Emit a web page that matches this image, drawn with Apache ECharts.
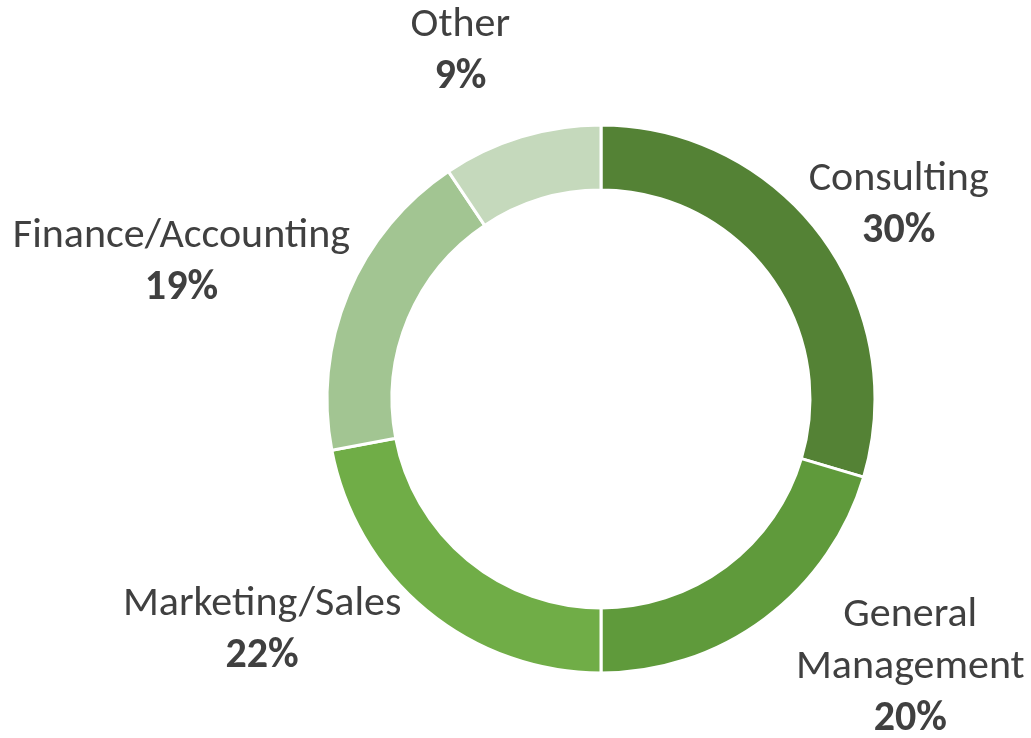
<!DOCTYPE html>
<html>
<head>
<meta charset="utf-8">
<script src="https://cdn.jsdelivr.net/npm/echarts@6/dist/echarts.min.js"></script>
<style>html,body{margin:0;padding:0;background:#fff}#c{width:1031px;height:738px}</style>
</head>
<body>
<div id="c"></div>
<script>
const categories = ['Consulting', 'General Management', 'Marketing/Sales', 'Finance/Accounting', 'Other'];
const values = [29.6, 20.4, 22.0, 18.6, 9.4];
const colors = ['#548235', '#5f9a3b', '#70ad47', '#a2c592', '#c5d9bc'];
// label placement tuning (outside label line lengths, line hidden)
const lineLen = [50, 61, 27, 81, 89];
const lineLen2 = [38, 109, 147, 92, 35];

const FONT = "Carlito, 'Liberation Sans Narrow', 'DejaVu Sans Condensed', sans-serif";
const chart = echarts.init(document.getElementById('c'), null, {renderer: 'canvas'});
chart.setOption({
  animation: false,
  series: [{
    type: 'pie',
    center: [601, 399],
    radius: [209, 274],
    startAngle: 90,
    clockwise: true,
    avoidLabelOverlap: false,
    percentPrecision: 0,
    itemStyle: {borderColor: '#ffffff', borderWidth: 3},
    label: {
      show: true,
      position: 'outside',
      distanceToLabelLine: 0,
      formatter: p => '{n|' + p.name.replace(' ', '\n') + '}\n{p|' + Math.round(p.percent) + '%}',
      rich: {
        n: {fontFamily: FONT, fontSize: 42, color: '#404040', align: 'center', lineHeight: 52},
        p: {fontFamily: FONT, fontSize: 42, fontWeight: 'bold', color: '#404040', align: 'center', lineHeight: 52}
      }
    },
    labelLine: {show: false},
    labelLayout: {align: 'center', verticalAlign: 'middle'},
    emphasis: {disabled: true},
    data: categories.map((c, i) => ({
      name: c,
      value: values[i],
      itemStyle: {color: colors[i]},
      labelLine: {show: false, length: lineLen[i], length2: lineLen2[i]}
    }))
  }]
});
</script>
</body>
</html>
